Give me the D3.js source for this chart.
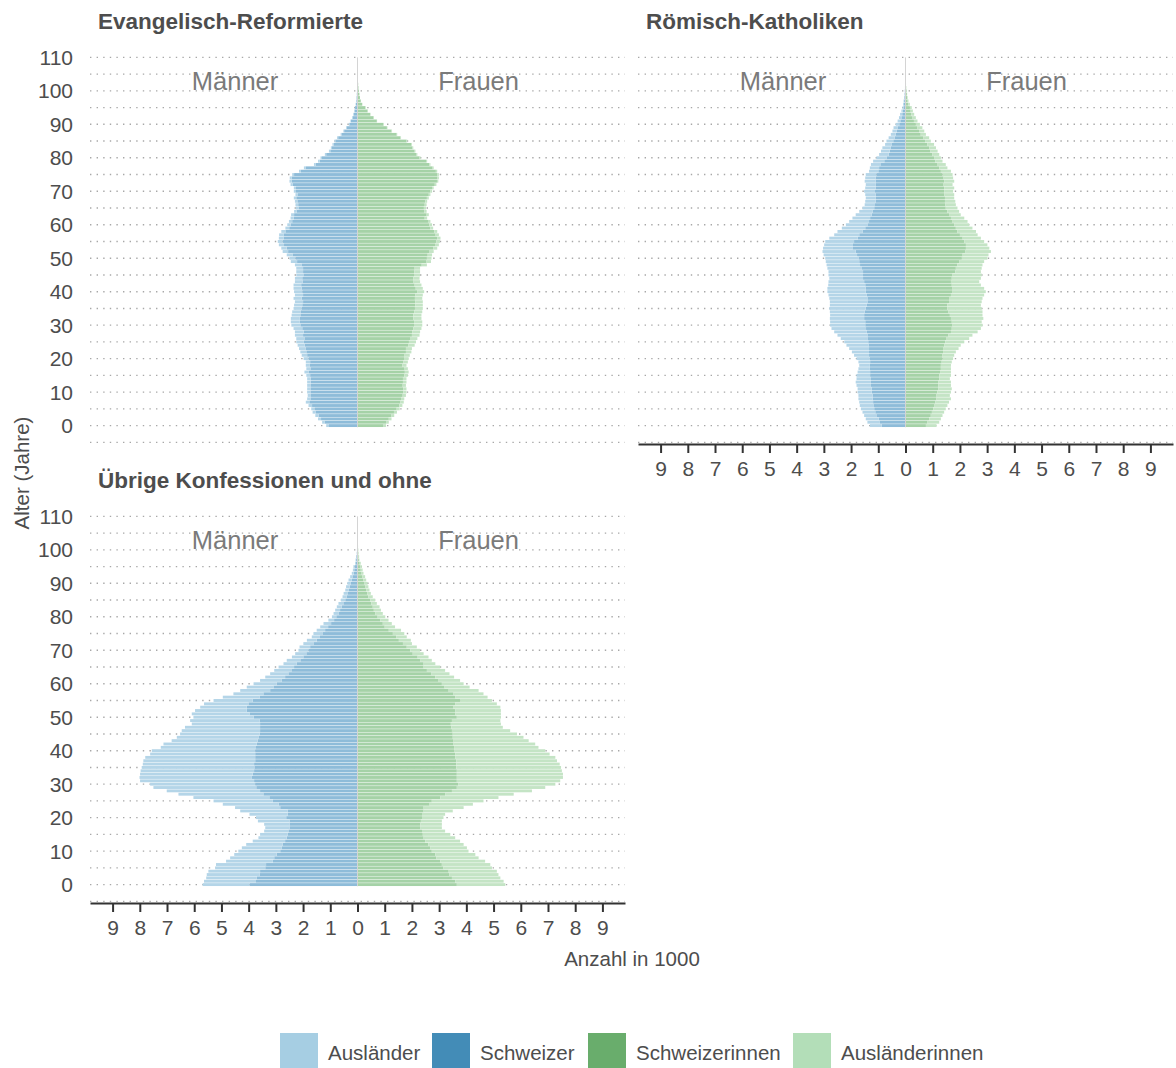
<!DOCTYPE html>
<html>
<head>
<meta charset="utf-8">
<script src="https://cdn.jsdelivr.net/npm/d3@7"></script>
<style>
body { margin: 0; background: #fff; }
text { font-family: "Liberation Sans", Arial, sans-serif; }
</style>
</head>
<body>
<script>
// ages 0..105, values in 1000 persons
var ages = d3.range(0, 106);

// Evangelisch-Reformierte
var refAuslaender = [0.10,0.10,0.11,0.12,0.12,0.12,0.13,0.13,0.12,0.12,
 0.12,0.12,0.12,0.13,0.13,0.14,0.15,0.15,0.15,0.16,
 0.18,0.20,0.22,0.24,0.26,0.28,0.30,0.30,0.32,0.32,
 0.33,0.33,0.32,0.32,0.32,0.30,0.30,0.30,0.30,0.30,
 0.30,0.30,0.28,0.28,0.27,0.26,0.25,0.25,0.24,0.23,
 0.22,0.21,0.20,0.20,0.19,0.18,0.17,0.16,0.15,0.14,
 0.13,0.12,0.12,0.11,0.10,0.10,0.10,0.09,0.09,0.09,
 0.08,0.08,0.08,0.08,0.07,0.07,0.07,0.06,0.06,0.06,
 0.05,0.05,0.05,0.04,0.04,0.04,0.04,0.03,0.03,0.03,
 0.02,0.02,0.02,0.02,0.01,0.01,0.01,0.01,0.01,0.01,
 0,0,0,0,0,0];
var refSchweizer = [1.05,1.20,1.34,1.43,1.53,1.58,1.67,1.77,1.73,1.71,
 1.73,1.73,1.73,1.72,1.72,1.74,1.80,1.73,1.75,1.74,
 1.80,1.85,1.88,1.91,1.94,1.97,1.95,2.00,1.98,2.03,
 2.10,2.12,2.13,2.10,2.08,2.05,2.03,2.00,2.05,2.00,
 2.03,2.05,2.07,2.02,2.03,1.99,2.00,2.00,2.06,2.22,
 2.28,2.39,2.55,2.60,2.70,2.75,2.72,2.72,2.65,2.51,
 2.45,2.40,2.34,2.33,2.23,2.17,2.18,2.21,2.25,2.19,
 2.26,2.26,2.38,2.42,2.42,2.33,2.08,1.91,1.54,1.39,
 1.31,1.15,1.00,0.94,0.88,0.81,0.71,0.59,0.49,0.39,
 0.30,0.24,0.18,0.14,0.11,0.09,0.06,0.04,0.03,0.02,
 0.02,0.015,0.01,0.005,0.003,0.002];
var refSchweizerinnen = [0.96,1.05,1.15,1.25,1.34,1.44,1.54,1.58,1.60,1.66,
 1.68,1.68,1.66,1.67,1.67,1.72,1.74,1.71,1.65,1.69,
 1.71,1.73,1.78,1.78,1.86,1.89,1.93,2.00,2.01,2.05,
 2.08,2.08,2.05,2.05,2.09,2.11,2.12,2.12,2.11,2.13,
 2.19,2.14,2.10,2.06,2.05,2.08,2.09,2.10,2.36,2.52,
 2.55,2.58,2.65,2.78,2.85,2.90,2.93,2.87,2.82,2.68,
 2.64,2.59,2.47,2.54,2.46,2.44,2.47,2.49,2.55,2.62,
 2.68,2.74,2.84,2.92,2.94,2.94,2.88,2.76,2.64,2.52,
 2.28,2.17,2.10,2.02,1.97,1.80,1.58,1.44,1.25,1.08,
 0.95,0.71,0.59,0.47,0.37,0.29,0.17,0.12,0.09,0.07,
 0.05,0.035,0.025,0.015,0.008,0.004];
var refAuslaenderinnen = [0.09,0.10,0.10,0.10,0.11,0.11,0.11,0.12,0.12,0.12,
 0.12,0.12,0.12,0.13,0.13,0.13,0.14,0.14,0.15,0.16,
 0.17,0.19,0.20,0.22,0.24,0.26,0.27,0.28,0.29,0.30,
 0.30,0.30,0.30,0.30,0.29,0.29,0.28,0.28,0.27,0.27,
 0.26,0.26,0.25,0.24,0.23,0.22,0.21,0.20,0.19,0.18,
 0.17,0.16,0.15,0.15,0.14,0.13,0.12,0.12,0.11,0.10,
 0.10,0.09,0.09,0.08,0.08,0.08,0.07,0.07,0.07,0.06,
 0.06,0.06,0.06,0.05,0.05,0.05,0.05,0.04,0.04,0.04,
 0.04,0.03,0.03,0.03,0.03,0.03,0.02,0.02,0.02,0.02,
 0.02,0.01,0.01,0.01,0.01,0.01,0.01,0,0,0,
 0,0,0,0,0,0];

// Römisch-Katholiken
var kathAuslaender = [0.44,0.46,0.47,0.45,0.47,0.49,0.50,0.51,0.52,0.52,
 0.52,0.52,0.53,0.56,0.53,0.50,0.46,0.42,0.39,0.43,
 0.49,0.55,0.63,0.73,0.81,0.88,0.98,1.10,1.20,1.27,
 1.29,1.29,1.26,1.25,1.28,1.34,1.36,1.38,1.40,1.41,
 1.41,1.41,1.36,1.31,1.24,1.27,1.27,1.27,1.23,1.23,
 1.22,1.23,1.22,1.08,1.06,1.06,1.04,0.92,0.92,0.86,
 0.79,0.73,0.65,0.59,0.50,0.43,0.38,0.38,0.37,0.38,
 0.40,0.38,0.37,0.40,0.38,0.39,0.34,0.34,0.37,0.41,
 0.37,0.35,0.32,0.31,0.25,0.25,0.22,0.18,0.16,0.16,
 0.13,0.10,0.09,0.08,0.05,0.04,0.03,0.02,0.01,0.01,
 0.01,0.005,0,0,0,0];
var kathSchweizer = [0.87,0.94,0.99,1.07,1.11,1.15,1.18,1.19,1.21,1.21,
 1.24,1.24,1.27,1.27,1.27,1.30,1.30,1.31,1.31,1.30,
 1.31,1.34,1.34,1.34,1.36,1.37,1.40,1.40,1.42,1.45,
 1.48,1.48,1.52,1.52,1.50,1.46,1.42,1.40,1.40,1.42,
 1.46,1.46,1.48,1.52,1.56,1.56,1.56,1.60,1.67,1.70,
 1.73,1.78,1.83,1.95,1.93,1.89,1.76,1.70,1.58,1.48,
 1.40,1.34,1.30,1.24,1.20,1.15,1.12,1.10,1.09,1.10,
 1.12,1.10,1.09,1.10,1.10,1.07,1.00,0.97,0.90,0.78,
 0.70,0.62,0.58,0.54,0.50,0.45,0.40,0.36,0.32,0.28,
 0.23,0.19,0.15,0.12,0.10,0.07,0.06,0.05,0.04,0.03,
 0.02,0.015,0.01,0.005,0.003,0.002];
var kathSchweizerinnen = [0.75,0.81,0.87,0.93,0.97,1.02,1.05,1.10,1.14,1.14,
 1.17,1.21,1.21,1.21,1.24,1.24,1.27,1.30,1.30,1.33,
 1.36,1.36,1.38,1.38,1.42,1.46,1.51,1.58,1.67,1.70,
 1.73,1.70,1.67,1.63,1.58,1.54,1.54,1.60,1.60,1.67,
 1.73,1.73,1.70,1.67,1.70,1.73,1.83,1.85,1.91,1.97,
 2.07,2.10,2.19,2.22,2.22,2.16,2.10,2.00,1.91,1.85,
 1.79,1.73,1.67,1.60,1.54,1.48,1.46,1.45,1.45,1.43,
 1.42,1.42,1.40,1.42,1.40,1.36,1.30,1.24,1.18,1.10,
 1.05,0.98,0.92,0.87,0.80,0.72,0.66,0.56,0.50,0.44,
 0.38,0.31,0.26,0.21,0.19,0.16,0.11,0.08,0.06,0.05,
 0.04,0.025,0.015,0.01,0.005,0.003];
var kathAuslaenderinnen = [0.39,0.43,0.43,0.43,0.45,0.46,0.49,0.50,0.53,0.49,
 0.50,0.49,0.46,0.46,0.39,0.43,0.40,0.37,0.37,0.37,
 0.39,0.43,0.47,0.57,0.61,0.70,0.83,0.88,0.98,1.07,
 1.10,1.10,1.19,1.20,1.25,1.26,1.23,1.20,1.23,1.22,
 1.22,1.16,1.07,1.04,1.07,1.07,0.94,0.95,0.92,0.92,
 0.94,0.95,0.95,0.86,0.79,0.73,0.67,0.65,0.68,0.61,
 0.55,0.55,0.49,0.43,0.43,0.43,0.39,0.38,0.34,0.36,
 0.33,0.37,0.33,0.37,0.35,0.37,0.37,0.30,0.30,0.26,
 0.25,0.26,0.26,0.25,0.25,0.21,0.21,0.19,0.19,0.18,
 0.15,0.13,0.12,0.11,0.08,0.07,0.05,0.03,0.02,0.01,
 0.01,0.005,0.005,0,0,0];

// Übrige Konfessionen und ohne
var uebrAuslaender = [1.72,1.91,1.86,1.94,1.90,1.84,1.84,1.72,1.62,1.56,
 1.54,1.47,1.34,1.19,1.04,1.01,0.89,0.89,0.93,1.16,
 1.11,1.40,1.74,1.66,2.05,2.18,2.79,3.12,3.43,3.78,
 3.86,4.19,4.13,4.14,4.17,4.14,4.09,4.11,4.04,3.86,
 3.80,3.50,3.43,3.16,3.00,2.92,2.88,2.76,2.51,2.55,
 2.21,2.12,1.90,1.71,1.63,1.44,1.35,1.10,1.10,0.98,
 0.85,0.80,0.73,0.67,0.63,0.57,0.49,0.50,0.42,0.41,
 0.37,0.39,0.37,0.36,0.30,0.35,0.31,0.29,0.28,0.21,
 0.16,0.18,0.18,0.18,0.18,0.16,0.15,0.14,0.12,0.13,
 0.12,0.12,0.10,0.07,0.05,0.05,0.02,0.02,0.01,0.005,
 0,0,0,0,0,0];
var uebrSchweizer = [3.97,3.73,3.70,3.60,3.58,3.39,3.36,3.11,3.06,2.97,
 2.84,2.78,2.75,2.66,2.60,2.57,2.54,2.50,2.50,2.50,
 2.62,2.57,2.57,2.84,2.90,3.11,3.24,3.46,3.58,3.72,
 3.76,3.80,3.88,3.85,3.80,3.79,3.80,3.76,3.76,3.76,
 3.76,3.73,3.70,3.67,3.64,3.60,3.58,3.58,3.58,3.60,
 3.82,3.97,4.07,4.07,4.01,3.85,3.60,3.46,3.21,3.09,
 2.97,2.78,2.66,2.54,2.43,2.33,2.23,2.10,1.99,1.88,
 1.80,1.74,1.62,1.50,1.38,1.27,1.19,1.08,0.97,0.86,
 0.78,0.70,0.64,0.58,0.52,0.45,0.40,0.37,0.33,0.29,
 0.25,0.21,0.17,0.14,0.12,0.10,0.07,0.05,0.04,0.025,
 0.02,0.015,0.01,0.005,0.003,0.002];
var uebrSchweizerinnen = [3.65,3.59,3.47,3.38,3.35,3.16,3.10,3.04,2.90,2.86,
 2.73,2.67,2.60,2.49,2.43,2.40,2.37,2.30,2.31,2.33,
 2.37,2.37,2.43,2.43,2.65,2.73,3.04,3.22,3.47,3.65,
 3.71,3.65,3.65,3.65,3.65,3.63,3.63,3.63,3.59,3.59,
 3.55,3.55,3.53,3.53,3.50,3.50,3.47,3.45,3.43,3.47,
 3.65,3.60,3.60,3.53,3.60,3.77,3.60,3.53,3.35,3.20,
 3.10,2.98,2.86,2.72,2.55,2.43,2.43,2.30,2.21,2.03,
 1.94,1.81,1.67,1.52,1.42,1.30,1.15,1.00,0.93,0.84,
 0.74,0.65,0.60,0.56,0.51,0.47,0.40,0.36,0.32,0.29,
 0.26,0.22,0.18,0.15,0.12,0.10,0.08,0.05,0.04,0.03,
 0.025,0.02,0.015,0.01,0.005,0.003];
var uebrAuslaenderinnen = [1.78,1.78,1.78,1.80,1.77,1.78,1.78,1.65,1.55,1.47,
 1.35,1.35,1.30,1.28,1.16,1.01,0.85,0.80,0.79,0.77,
 0.79,0.85,1.07,1.47,1.59,1.90,2.14,2.52,2.94,3.25,
 3.56,3.80,3.90,3.90,3.86,3.85,3.80,3.70,3.68,3.47,
 3.35,3.10,3.00,2.76,2.60,2.36,2.14,1.89,1.84,1.78,
 1.62,1.67,1.67,1.72,1.52,1.17,1.18,1.10,1.10,0.92,
 0.80,0.79,0.69,0.66,0.67,0.61,0.43,0.43,0.40,0.40,
 0.36,0.37,0.33,0.44,0.39,0.42,0.45,0.38,0.33,0.30,
 0.28,0.28,0.26,0.25,0.20,0.18,0.16,0.13,0.12,0.11,
 0.11,0.10,0.10,0.07,0.07,0.06,0.04,0.02,0.02,0.01,
 0.005,0,0,0,0,0];

var xTicks = [-9,-8,-7,-6,-5,-4,-3,-2,-1,0,1,2,3,4,5,6,7,8,9];
var yTicks = [0,10,20,30,40,50,60,70,80,90,100,110];
var gridAges = [-5,0,5,10,15,20,25,30,35,40,45,50,55,60,65,70,75,80,85,90,95,100,105,110];

var keys = ["Ausländer", "Schweizer", "Schweizerinnen", "Ausländerinnen"];
var barColor = {"Ausländer": "#b4d5e8", "Schweizer": "#8ebcd9", "Schweizerinnen": "#a5d2a7", "Ausländerinnen": "#c4e4c5"};
var keyColor = {"Ausländer": "#a6cee3", "Schweizer": "#438cb7", "Schweizerinnen": "#69ad6c", "Ausländerinnen": "#b3deb8"};

var panels = [
    {title: "Evangelisch-Reformierte", left: 90, top: 49, yLabels: true, xAxis: false,
     m1: refSchweizer, m2: refAuslaender, f1: refSchweizerinnen, f2: refAuslaenderinnen},
    {title: "Römisch-Katholiken", left: 638, top: 49, yLabels: false, xAxis: true,
     m1: kathSchweizer, m2: kathAuslaender, f1: kathSchweizerinnen, f2: kathAuslaenderinnen},
    {title: "Übrige Konfessionen und ohne", left: 90, top: 508, yLabels: true, xAxis: true,
     m1: uebrSchweizer, m2: uebrAuslaender, f1: uebrSchweizerinnen, f2: uebrAuslaenderinnen}
];

var pw = 535, ph = 395;
var textCol = "#4d4d4d";

var svg = d3.select("body")
    .append("svg")
    .attr("width", 1176)
    .attr("height", 1068);

svg.append("rect").attr("width", 1176).attr("height", 1068).attr("fill", "#fff");

panels.forEach(function(p){
    var x = d3.scaleLinear().domain([-9.83, 9.83]).range([p.left, p.left + pw]);
    var y = d3.scaleLinear().domain([-5.5, 112.5]).range([p.top + ph, p.top]);
    var step = Math.abs(y(1) - y(0));

    var g = svg.append("g");

    // dotted grid
    g.selectAll(".grid")
        .data(gridAges)
        .enter()
        .append("line")
        .attr("x1", p.left).attr("x2", p.left + pw)
        .attr("y1", function(d){ return y(d); })
        .attr("y2", function(d){ return y(d); })
        .attr("stroke", "#a8a8a8")
        .attr("stroke-width", 1.4)
        .attr("stroke-dasharray", "1.4,5.2");

    // stacked bars, men negative
    var rows = ages.map(function(a, i){
        return {age: a, "Schweizer": -p.m1[i], "Ausländer": -p.m2[i],
                "Schweizerinnen": p.f1[i], "Ausländerinnen": p.f2[i]};
    });
    var stack = d3.stack()
        .keys(["Schweizer", "Ausländer", "Schweizerinnen", "Ausländerinnen"])
        .offset(d3.stackOffsetDiverging);
    var series = stack(rows);

    g.selectAll(".serie")
        .data(series)
        .enter()
        .append("g")
        .attr("fill", function(d){ return barColor[d.key]; })
        .selectAll("rect")
        .data(function(d){ return d; })
        .enter()
        .append("rect")
        .attr("x", function(d){ return x(Math.min(d[0], d[1])); })
        .attr("width", function(d){ return Math.abs(x(d[1]) - x(d[0])); })
        .attr("y", function(d){ return y(d.data.age) - step * 0.43; })
        .attr("height", step * 0.86);

    // zero line
    g.append("line")
        .attr("x1", x(0)).attr("x2", x(0))
        .attr("y1", y(110)).attr("y2", y(-0.5))
        .attr("stroke", "#d4d4d4")
        .attr("stroke-width", 1);

    g.append("text")
        .attr("x", x(-4.5)).attr("y", y(103))
        .attr("text-anchor", "middle")
        .attr("dominant-baseline", "central")
        .attr("font-size", 25.5)
        .attr("fill", "#7a7a7a")
        .text("Männer");

    g.append("text")
        .attr("x", x(4.45)).attr("y", y(103))
        .attr("text-anchor", "middle")
        .attr("dominant-baseline", "central")
        .attr("font-size", 25.5)
        .attr("fill", "#7a7a7a")
        .text("Frauen");

    g.append("text")
        .attr("x", p.left + 8).attr("y", p.top - 20)
        .attr("font-size", 22.5)
        .attr("font-weight", "bold")
        .attr("fill", textCol)
        .text(p.title);

    if (p.yLabels) {
        g.selectAll(".ylab")
            .data(yTicks)
            .enter()
            .append("text")
            .attr("x", 73)
            .attr("y", function(d){ return y(d); })
            .attr("dy", "0.36em")
            .attr("text-anchor", "end")
            .attr("font-size", 21)
            .attr("fill", textCol)
            .text(function(d){ return d; });
    }

    if (p.xAxis) {
        var ax = g.append("g")
            .attr("transform", "translate(0," + (p.top + ph) + ")")
            .call(d3.axisBottom(x)
                .tickValues(xTicks)
                .tickFormat(function(d){ return Math.abs(d); })
                .tickSize(9)
                .tickSizeOuter(0)
                .tickPadding(8));
        ax.select(".domain").attr("stroke", "#333").attr("stroke-width", 2);
        ax.selectAll(".tick line").attr("stroke", "#333").attr("stroke-width", 2);
        ax.selectAll(".tick text")
            .attr("font-size", 21)
            .attr("font-family", "Liberation Sans, Arial, sans-serif")
            .attr("fill", textCol);
    }
});

// axis titles
svg.append("text")
    .attr("transform", "translate(29,473) rotate(-90)")
    .attr("text-anchor", "middle")
    .attr("font-size", 20.5)
    .attr("fill", textCol)
    .text("Alter (Jahre)");

svg.append("text")
    .attr("x", 632).attr("y", 966)
    .attr("text-anchor", "middle")
    .attr("font-size", 20.5)
    .attr("fill", textCol)
    .text("Anzahl in 1000");

// legend
var legendX = [280, 432, 588, 793];
var leg = svg.append("g");
keys.forEach(function(k, i){
    leg.append("rect")
        .attr("x", legendX[i]).attr("y", 1033)
        .attr("width", 38).attr("height", 38)
        .attr("fill", keyColor[k]);
    leg.append("text")
        .attr("x", legendX[i] + 48).attr("y", 1053)
        .attr("dy", "0.36em")
        .attr("font-size", 20.5)
        .attr("fill", textCol)
        .text(k);
});
</script>
</body>
</html>
